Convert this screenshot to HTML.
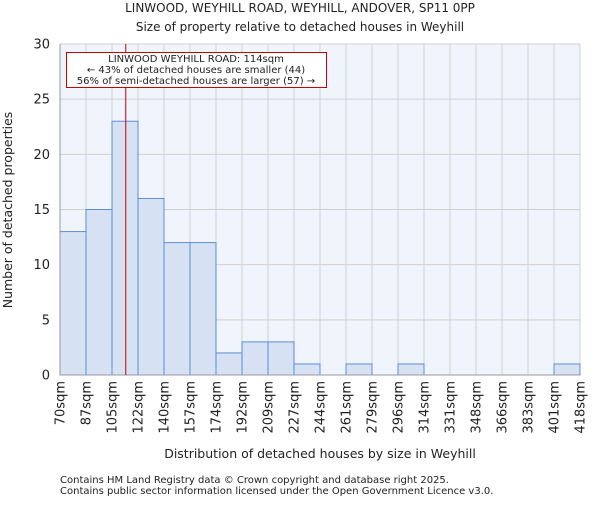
<!DOCTYPE html>
<html><head><meta charset="utf-8"><style>
body{margin:0;background:#fff;font-family:"Liberation Sans","DejaVu Sans",sans-serif}
svg text{font-family:"DejaVu Sans","Liberation Sans",sans-serif;fill:#222}
</style></head><body>
<svg id="chart" width="600" height="500" viewBox="0 0 600 500" xmlns="http://www.w3.org/2000/svg">
<text x="300" y="12" font-size="12" text-anchor="middle">LINWOOD, WEYHILL ROAD, WEYHILL, ANDOVER, SP11 0PP</text>
<text x="300" y="31" font-size="12" text-anchor="middle">Size of property relative to detached houses in Weyhill</text>
<rect x="60" y="44" width="520" height="331" fill="#f0f4fc"/>
<g id="grid"></g><g id="bars"></g><g id="xt"></g><g id="yt"></g>
<line x1="60" y1="375" x2="580" y2="375" stroke="#999" stroke-width="1"/>
<line x1="60" y1="44" x2="60" y2="375" stroke="#999" stroke-width="1"/>
<line id="marker" y1="44" y2="375" stroke="#cc0000" stroke-width="1"/>
<g>
<rect x="66.5" y="52.5" width="260" height="35" fill="#fff" stroke="#cc0000" stroke-width="1"/>
<text x="196" y="62" font-size="10" text-anchor="middle">LINWOOD WEYHILL ROAD: 114sqm</text>
<text x="196" y="73" font-size="10" text-anchor="middle">← 43% of detached houses are smaller (44)</text>
<text x="196" y="84" font-size="10" text-anchor="middle">56% of semi-detached houses are larger (57) →</text>
</g>
<text x="320" y="458" font-size="12.5" text-anchor="middle">Distribution of detached houses by size in Weyhill</text>
<text transform="translate(12,210) rotate(-90)" font-size="12.5" text-anchor="middle">Number of detached properties</text>
<text x="60" y="483" font-size="10">Contains HM Land Registry data © Crown copyright and database right 2025.</text>
<text x="60" y="494" font-size="10">Contains public sector information licensed under the Open Government Licence v3.0.</text>
</svg>
<script>
const binLabels=["70sqm","87sqm","105sqm","122sqm","140sqm","157sqm","174sqm","192sqm","209sqm","227sqm","244sqm","261sqm","279sqm","296sqm","314sqm","331sqm","348sqm","366sqm","383sqm","401sqm","418sqm"];
const counts=[13,15,23,16,12,12,2,3,3,1,0,1,0,1,0,0,0,0,0,1];
const yTicks=[0,5,10,15,20,25,30];
const binEdges=[70,87,105,122,140,157,174,192,209,227,244,261,279,296,314,331,348,366,383,401,418];
const propertySize=114;
const X0=60,X1=580,Y0=375,Y1=44,YMAX=30;
const ns="http://www.w3.org/2000/svg";
const bw=(X1-X0)/counts.length;
const xi=i=>X0+i*bw;
const y=v=>Y0-(v/YMAX)*(Y0-Y1);
function mk(t,a,p){const e=document.createElementNS(ns,t);for(const k in a)e.setAttribute(k,a[k]);p.appendChild(e);return e;}
const g=document.getElementById('grid'),b=document.getElementById('bars'),xt=document.getElementById('xt'),yt=document.getElementById('yt');
binLabels.forEach((l,i)=>{
 const ln=mk('line',{x1:xi(i),x2:xi(i),y1:Y1,y2:Y0,stroke:'#d0d0d0'},g);
 
 
 const t=mk('text',{transform:`translate(${xi(i)+4.5},381) rotate(-90)`,'font-size':'13','text-anchor':'end'},xt);
 t.textContent=l;
 
 
});
yTicks.forEach(v=>{
 const ln=mk('line',{x1:X0,x2:X1,y1:y(v),y2:y(v),stroke:'#d0d0d0'},g);
 
 
 const t=mk('text',{x:50,y:y(v)+4.5,'font-size':'13','text-anchor':'end'},yt);
 t.textContent=v;
 
 
});
counts.forEach((c,i)=>{
 if(c<=0)return;
 const r=mk('rect',{x:xi(i),y:y(c),width:bw,height:Y0-y(c),fill:'#d6e1f3',stroke:'#5b8fd6','stroke-width':1},b);
 
 
});
let k=0;while(k<binEdges.length-2&&binEdges[k+1]<propertySize)k++;
const mx=xi(k)+(propertySize-binEdges[k])/(binEdges[k+1]-binEdges[k])*bw;
const m=document.getElementById('marker');m.setAttribute('x1',mx);m.setAttribute('x2',mx);
</script>
</body></html>
